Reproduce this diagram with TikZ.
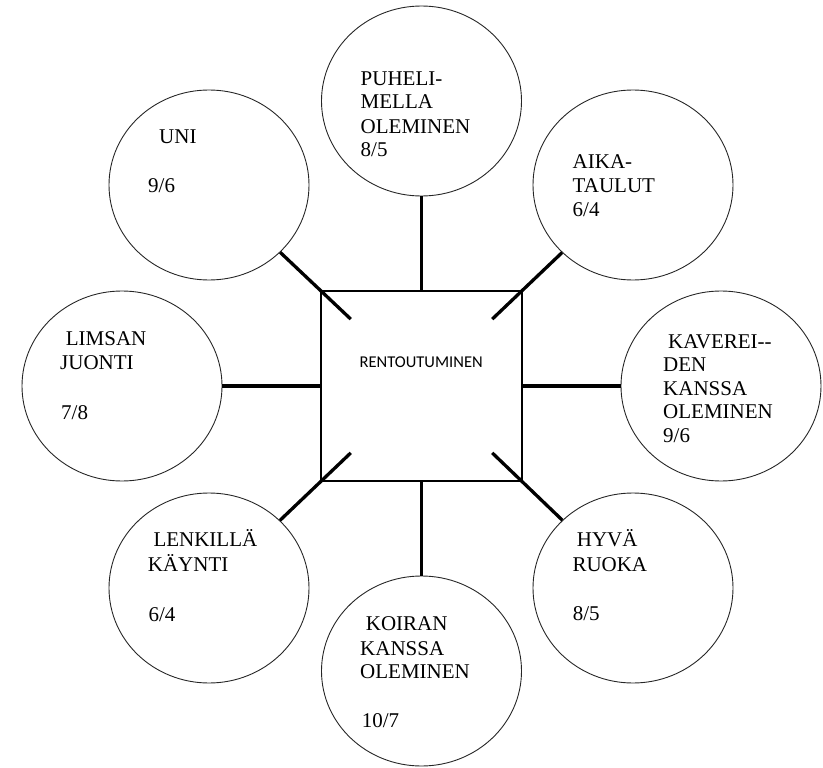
\documentclass[tikz,border=0pt]{standalone}
\usepackage{fontspec}
\setmainfont{Liberation Serif}
\newfontfamily\calibfont{Carlito}
\usetikzlibrary{shapes.geometric,calc}
\begin{document}
\begin{tikzpicture}[x=1pt,y=-1pt,
  bubble/.style={ellipse, draw=black!85, line width=0.9pt, minimum width=200pt, minimum height=190pt, inner sep=0pt},
  hub/.style={rectangle, draw=black, line width=1.1pt, minimum width=201pt, minimum height=190pt, inner sep=0pt},
  conn/.style={line width=3.3pt, black},
  lbl/.style={anchor=base west, inner sep=0pt, font=\fontsize{21}{24}\selectfont},
  hublbl/.style={anchor=base, inner sep=0pt, font=\calibfont\fontsize{16.5}{18}\selectfont}]
\useasboundingbox (0,0) rectangle (823,768);
% hub and bubbles
\node[hub] (sq) at (421.5,386) {};
\node[bubble] (uni) at (209,185) {};
\node[bubble] (puh) at (421.5,101) {};
\node[bubble] (aika) at (633,185) {};
\node[bubble] (kav) at (721,386) {};
\node[bubble] (ruoka) at (633,588) {};
\node[bubble] (koira) at (421.5,671) {};
\node[bubble] (lenk) at (209,588) {};
\node[bubble] (limsa) at (122,386) {};
% inner ends of diagonal connectors
\coordinate (sq-nw) at ($(sq.north west)!0.3!(sq.center)$);
\coordinate (sq-ne) at ($(sq.north east)!0.3!(sq.center)$);
\coordinate (sq-sw) at ($(sq.south west)!0.3!(sq.center)$);
\coordinate (sq-se) at ($(sq.south east)!0.3!(sq.center)$);
% connectors
\draw[conn] (uni) -- (sq-nw);
\draw[conn] (puh) -- (sq.north);
\draw[conn] (aika) -- (sq-ne);
\draw[conn] (limsa) -- (sq.west);
\draw[conn] (kav) -- (sq.east);
\draw[conn] (lenk) -- (sq-sw);
\draw[conn] (ruoka) -- (sq-se);
\draw[conn] (koira) -- (sq.south);
% hub label
\node[hublbl] (hub-t) at (421.2,367.3) {RENTOUTUMINEN};
% UNI
\node[lbl] (uni-t1) at (159,143) {UNI};
\node[lbl] (uni-t2) at (148,193) {9/6};
% PUHELIMELLA
\node[lbl] (puh-t1) at (360.5,85) {PUHELI-};
\node[lbl] (puh-t2) at (360.5,109) {MELLA};
\node[lbl] (puh-t3) at (360.5,133) {OLEMINEN};
\node[lbl] (puh-t4) at (360.5,157) {8/5};
% AIKATAULUT
\node[lbl] (aika-t1) at (572.5,168.5) {AIKA-};
\node[lbl] (aika-t2) at (572.5,192.5) {TAULUT};
\node[lbl] (aika-t3) at (572.5,216.5) {6/4};
% KAVEREIDEN
\node[lbl] (kav-t1) at (668,348) {KAVEREI-{}-};
\node[lbl] (kav-t2) at (663,371.5) {DEN};
\node[lbl] (kav-t3) at (663,395) {KANSSA};
\node[lbl] (kav-t4) at (663,418.5) {OLEMINEN};
\node[lbl] (kav-t5) at (663,442) {9/6};
% LIMSAN
\node[lbl] (limsa-t1) at (65.7,345) {LIMSAN};
\node[lbl] (limsa-t2) at (60,369) {JUONTI};
\node[lbl] (limsa-t3) at (61,419.3) {7/8};
% LENKILLA
\node[lbl] (lenk-t1) at (153.3,546.7) {LENKILLÄ};
\node[lbl] (lenk-t2) at (147.7,571.7) {KÄYNTI};
\node[lbl] (lenk-t3) at (148.3,621) {6/4};
% HYVA RUOKA
\node[lbl] (ruoka-t1) at (576.7,546.7) {HYVÄ};
\node[lbl] (ruoka-t2) at (572.3,571.7) {RUOKA};
\node[lbl] (ruoka-t3) at (572.7,620) {8/5};
% KOIRAN
\node[lbl] (koira-t1) at (365.7,630) {KOIRAN};
\node[lbl] (koira-t2) at (360,655) {KANSSA};
\node[lbl] (koira-t3) at (360,678.3) {OLEMINEN};
\node[lbl] (koira-t4) at (361.7,727.7) {10/7};
\end{tikzpicture}
\end{document}
